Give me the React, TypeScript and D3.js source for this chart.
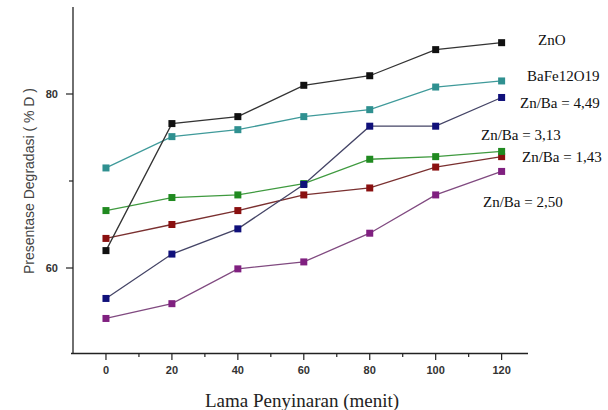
import React, { useRef, useEffect } from 'react';
import * as d3 from 'd3';

// irradiation time (minutes)
const times = [0, 20, 40, 60, 80, 100, 120];

const seriesNames = ['ZnO', 'BaFe12O19', 'Zn/Ba = 4,49', 'Zn/Ba = 3,13', 'Zn/Ba = 1,43', 'Zn/Ba = 2,50'];
const znO = [62.0, 76.6, 77.4, 81.0, 82.1, 85.1, 85.9];
const baFe = [71.5, 75.1, 75.9, 77.4, 78.2, 80.8, 81.5];
const znBa449 = [56.5, 61.6, 64.5, 69.6, 76.3, 76.3, 79.6];
const znBa313 = [66.6, 68.1, 68.4, 69.7, 72.5, 72.8, 73.4];
const znBa143 = [63.4, 65.0, 66.6, 68.4, 69.2, 71.6, 72.8];
const znBa250 = [54.2, 55.9, 59.9, 60.7, 64.0, 68.4, 71.1];

const xMajorTicks = [0, 20, 40, 60, 80, 100, 120];
const xMinorTicks = [10, 30, 50, 70, 90, 110];
const yMajorTicks = [60, 80];
const yMinorTicks = [70];

const colors = ['#111111', '#2f9090', '#10107a', '#208a20', '#8a1010', '#802080'];
const lineColors = ['#333333', '#3f9a9a', '#444466', '#3f9a3f', '#7a3030', '#804a80'];

const SERIF = "'Liberation Serif', 'Times New Roman', 'DejaVu Serif', serif";
const SANS = "'Liberation Sans', Arial, sans-serif";

export default function App() {
  const ref = useRef<SVGSVGElement>(null);

  useEffect(() => {
    const svg = d3.select(ref.current);
    svg.selectAll('*').remove();

    const x = d3.scaleLinear().domain([-10, 128]).range([73, 528]);
    const y = d3.scaleLinear().domain([50, 90]).range([355, 7]);

    const all = [znO, baFe, znBa449, znBa313, znBa143, znBa250];

    // axes lines
    svg.append('line').attr('x1', 73).attr('x2', 73).attr('y1', 7).attr('y2', 353.5)
      .attr('stroke', '#222').attr('stroke-width', 1.3);
    svg.append('line').attr('x1', 71).attr('x2', 528).attr('y1', 353.5).attr('y2', 353.5)
      .attr('stroke', '#222').attr('stroke-width', 1.3);

    // x ticks
    xMajorTicks.forEach(t => {
      svg.append('line').attr('x1', x(t)).attr('x2', x(t)).attr('y1', 353.5).attr('y2', 360)
        .attr('stroke', '#222').attr('stroke-width', 1.2);
      svg.append('text').attr('x', x(t)).attr('y', 374).attr('text-anchor', 'middle')
        .attr('font-family', SANS).attr('font-size', 11).attr('font-weight', 600)
        .attr('fill', '#333').text(String(t));
    });
    xMinorTicks.forEach(t => {
      svg.append('line').attr('x1', x(t)).attr('x2', x(t)).attr('y1', 353.5).attr('y2', 357)
        .attr('stroke', '#222').attr('stroke-width', 1.2);
    });

    // y ticks
    yMajorTicks.forEach(t => {
      svg.append('line').attr('x1', 66).attr('x2', 73).attr('y1', y(t)).attr('y2', y(t))
        .attr('stroke', '#222').attr('stroke-width', 1.2);
      svg.append('text').attr('x', 58).attr('y', y(t)).attr('dy', '0.35em').attr('text-anchor', 'end')
        .attr('font-family', SANS).attr('font-size', 11).attr('font-weight', 600)
        .attr('fill', '#333').text(String(t));
    });
    yMinorTicks.forEach(t => {
      svg.append('line').attr('x1', 69).attr('x2', 73).attr('y1', y(t)).attr('y2', y(t))
        .attr('stroke', '#222').attr('stroke-width', 1.2);
    });

    // axis titles
    svg.append('text').attr('transform', 'translate(34,181) rotate(-90)').attr('text-anchor', 'middle')
      .attr('font-family', SANS).attr('font-size', 14)
      .attr('fill', '#444').text('Presentase Degradasi ( % D )');
    svg.append('text').attr('x', 302).attr('y', 407).attr('text-anchor', 'middle')
      .attr('font-family', SERIF).attr('font-size', 19)
      .attr('fill', '#222').text('Lama Penyinaran (menit)');

    const line = d3.line<number>().x((_, i) => x(times[i])).y(d => y(d));

    // draw in order so black ends on top at right
    const order = [5, 4, 3, 2, 1, 0];
    order.forEach(si => {
      svg.append('path').attr('d', line(all[si]))
        .attr('fill', 'none').attr('stroke', lineColors[si]).attr('stroke-width', 1.3);
    });
    order.forEach(si => {
      svg.selectAll(null).data(all[si]).enter().append('rect')
        .attr('x', (_, i) => x(times[i]) - 3.5).attr('y', d => y(d) - 3.5)
        .attr('width', 7).attr('height', 7).attr('fill', colors[si]);
    });

    // series labels
    const labelPos = [
      [538, 45], [527, 81], [520, 108], [481, 140], [522, 162], [483, 207],
    ];
    seriesNames.forEach((name, i) => {
      svg.append('text').attr('x', labelPos[i][0]).attr('y', labelPos[i][1])
        .attr('font-family', SERIF).attr('font-size', 15)
        .attr('fill', '#111').text(name);
    });
  }, []);

  return (
    <svg ref={ref} width={608} height={410}
      style={{ position: 'absolute', left: 0, top: 0, background: '#fff' }} />
  );
}
